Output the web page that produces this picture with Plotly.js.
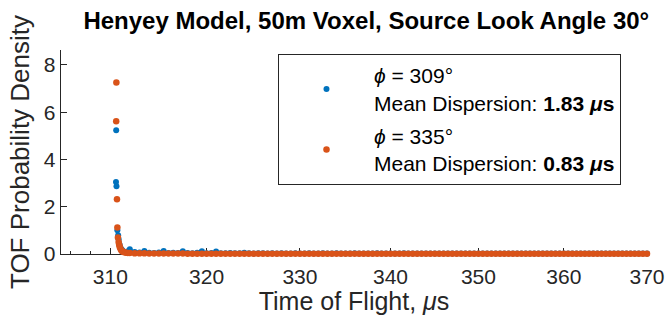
<!DOCTYPE html>
<html>
<head>
<meta charset="utf-8">
<script src="https://cdn.plot.ly/plotly-3.0.1.min.js"></script>
<style>html,body{margin:0;padding:0;background:#fff;}#chart{width:669px;height:323px;}</style>
</head>
<body>
<div id="chart"></div>
<script>
// ---- data ----
const seriesNames = [
  "<i>ϕ</i> = 309°<br>Mean Dispersion: <b>1.83 <i>μ</i>s</b>",
  "<i>ϕ</i> = 335°<br>Mean Dispersion: <b>0.83 <i>μ</i>s</b>"
];
// peak region (µs, density)
const bluePeakTime = [310.58, 310.60, 310.63, 310.72, 310.80, 310.85, 310.90, 310.95, 311.00, 311.10, 311.20, 311.30, 311.45, 311.60, 311.80];
const bluePeakVal  = [3.05, 5.24, 2.87, 1.00, 0.79, 0.62, 0.45, 0.38, 0.30, 0.22, 0.17, 0.12, 0.10, 0.08, 0.12];
const orangePeakTime = [310.60, 310.62, 310.68, 310.72, 310.78, 310.85, 310.90, 310.95, 311.00, 311.10, 311.20, 311.30, 311.45, 311.60, 311.80];
const orangePeakVal  = [5.62, 7.26, 2.32, 1.12, 0.70, 0.51, 0.40, 0.32, 0.25, 0.17, 0.12, 0.09, 0.07, 0.05, 0.04];
// tail region, shared time bins (µs)
const tailTime = [
  312.0,312.5,313.0,313.5,314.0,314.5,315.0,315.5,316.0,316.5,317.0,317.5,318.0,318.5,319.0,319.5,320.0,320.5,321.0,321.5,
  322.0,322.5,323.0,323.5,324.0,324.5,325.0,325.5,326.0,326.5,327.0,327.5,328.0,328.5,329.0,329.5,330.0,330.5,331.0,331.5,
  332.0,332.5,333.0,333.5,334.0,334.5,335.0,335.5,336.0,336.5,337.0,337.5,338.0,338.5,339.0,339.5,340.0,340.5,341.0,341.5,
  342.0,342.5,343.0,343.5,344.0,344.5,345.0,345.5,346.0,346.5,347.0,347.5,348.0,348.5,349.0,349.5,350.0,350.5,351.0,351.5,
  352.0,352.5,353.0,353.5,354.0,354.5,355.0,355.5,356.0,356.5,357.0,357.5,358.0,358.5,359.0,359.5,360.0,360.5,361.0,361.5,
  362.0,362.5,363.0,363.5,364.0,364.5,365.0,365.5,366.0,366.5,367.0,367.5,368.0,368.5,369.0,369.5,370.0
];
const blueTailVal = [
  0.20,0.08,0.06,0.13,0.05,0.04,0.06,0.13,0.04,0.05,0.04,0.12,0.04,0.03,0.05,0.12,0.03,0.04,0.11,0.03,
  0.03,0.04,0.03,0.03,0.05,0.03,0.02,0.03,0.03,0.02,0.03,0.02,0.03,0.02,0.02,0.03,0.02,0.02,0.03,0.02,
  0.02,0.03,0.02,0.02,0.03,0.02,0.02,0.02,0.03,0.02,0.02,0.02,0.02,0.03,0.02,0.02,0.02,0.02,0.02,0.03,
  0.02,0.02,0.02,0.02,0.02,0.02,0.02,0.02,0.02,0.02,0.02,0.02,0.02,0.02,0.02,0.02,0.02,0.02,0.02,0.02,
  0.02,0.02,0.02,0.02,0.02,0.02,0.02,0.02,0.02,0.02,0.02,0.02,0.02,0.02,0.02,0.02,0.02,0.02,0.02,0.02,
  0.02,0.02,0.02,0.02,0.02,0.02,0.02,0.02,0.02,0.02,0.02,0.02,0.02,0.02,0.02,0.02,0.02
];
const orangeTailVal = [
  0.04,0.03,0.03,0.03,0.02,0.02,0.02,0.02,0.02,0.02,0.02,0.02,0.01,0.01,0.01,0.01,0.01,0.01,0.01,0.01,
  0.01,0.01,0.01,0.01,0.01,0.01,0.01,0.01,0.01,0.01,0.01,0.01,0.01,0.01,0.01,0.01,0.01,0.01,0.01,0.01,
  0.01,0.01,0.01,0.01,0.01,0.01,0.01,0.01,0.01,0.01,0.01,0.01,0.01,0.01,0.01,0.01,0.01,0.01,0.01,0.01,
  0.01,0.01,0.01,0.01,0.01,0.01,0.01,0.01,0.01,0.01,0.01,0.01,0.01,0.01,0.01,0.01,0.01,0.01,0.01,0.01,
  0.01,0.01,0.01,0.01,0.01,0.01,0.01,0.01,0.01,0.01,0.01,0.01,0.01,0.01,0.01,0.01,0.01,0.01,0.01,0.01,
  0.01,0.01,0.01,0.01,0.01,0.01,0.01,0.01,0.01,0.01,0.01,0.01,0.01,0.01,0.01,0.01,0.01
];
const xTickVals = [310, 320, 330, 340, 350, 360, 370];
const xMinorTickVals = [306,308,312,314,316,318,322,324,326,328,332,334,336,338,342,344,346,348,352,354,356,358,362,364,366,368];
const yTickVals = [0, 2, 4, 6, 8];

// ---- chart ----
const FONT = "Liberation Sans, Arial, Helvetica, sans-serif";
const INK = "#262626";
const colors = ["#0072BD", "#D95319"];

const traces = [
  {
    type: "scatter", mode: "markers", name: seriesNames[0], legendgroup: "a",
    x: bluePeakTime.concat(tailTime), y: bluePeakVal.concat(blueTailVal),
    marker: {color: colors[0], size: 6}, cliponaxis: false
  },
  {
    type: "scatter", mode: "markers", name: seriesNames[1], legendgroup: "b",
    x: orangePeakTime.concat(tailTime), y: orangePeakVal.concat(orangeTailVal),
    marker: {color: colors[1], size: 6.5}, cliponaxis: false
  }
];

const layout = {
  width: 669, height: 323,
  margin: {l: 61, r: 22, t: 50, b: 69, pad: 0},
  paper_bgcolor: "#fff", plot_bgcolor: "#fff",
  font: {family: FONT, color: INK, size: 21},
  showlegend: true,
  title: {
    text: "<b>Henyey Model, 50m Voxel, Source Look Angle 30°</b>",
    font: {family: FONT, size: 24, color: "#000"},
    x: 0.521, xanchor: "center", y: 0.935, yanchor: "middle", xref: "paper", yref: "container"
  },
  xaxis: {
    type: "log",
    range: [Math.log10(305), Math.log10(370)],
    tickmode: "array", tickvals: xTickVals, ticktext: xTickVals.map(String),
    ticks: "inside", ticklen: 6, tickwidth: 1, tickcolor: INK,
    ticklabelstandoff: 3,
    minor: {tickmode: "array", tickvals: xMinorTickVals, ticks: "inside", ticklen: 3, tickwidth: 1, tickcolor: INK, showgrid: false},
    showline: true, linecolor: INK, linewidth: 1.3, mirror: false,
    showgrid: false, zeroline: false,
    layer: "below traces",
    tickfont: {family: FONT, size: 21, color: INK},
    title: {text: "Time of Flight, <i>μ</i>s", font: {family: FONT, size: 25, color: INK}, standoff: 4}
  },
  yaxis: {
    range: [0, 8.63],
    tickmode: "array", tickvals: yTickVals, ticktext: yTickVals.map(String),
    ticks: "inside", ticklen: 6, tickwidth: 1, tickcolor: INK,
    showline: true, linecolor: INK, linewidth: 1.3, mirror: false,
    showgrid: false, zeroline: false,
    layer: "below traces",
    tickfont: {family: FONT, size: 21, color: INK},
    title: {text: "TOF Probability Density", font: {family: FONT, size: 26, color: INK}, standoff: 6}
  },
  legend: {
    x: 0.3703, xanchor: "left", y: 0.98, yanchor: "top",
    bgcolor: "#fff", bordercolor: INK, borderwidth: 1,
    font: {family: FONT, size: 21, color: "#000"},
    itemwidth: 85, tracegroupgap: 3, traceorder: "grouped"
  }
};

Plotly.newPlot("chart", traces, layout, {staticPlot: true, displayModeBar: false});
</script>
</body>
</html>
